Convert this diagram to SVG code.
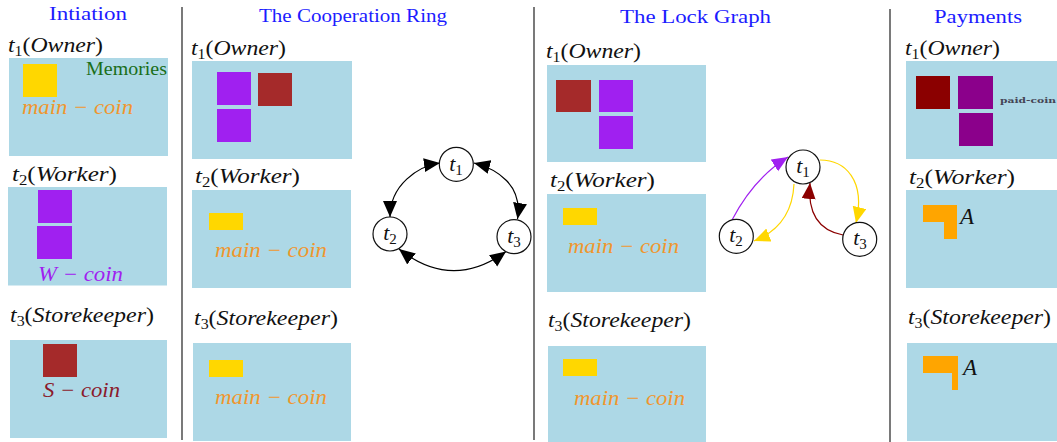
<svg xmlns="http://www.w3.org/2000/svg" width="1057" height="442" viewBox="0 0 1057 442">
<style>
text{font-family:"Liberation Serif","Times New Roman",serif}
.panel{fill:#add8e6}
.div{stroke:#222;stroke-width:1.2;fill:none}
.title{font-size:19px;fill:#1c1cff}
.lab{font-size:21px;font-style:italic;fill:#111}
.lab .up{font-style:normal}
.lab .sub{font-size:14px;font-style:normal}
.coin{font-size:21px;font-style:italic}
.orange{fill:#f0962e}
.yellow{fill:#ffd700}
.violet{fill:#a020f0}
.brown{fill:#a52a2a}
.dred{fill:#8b0000}
.purple{fill:#8b008b}
.amber{fill:#ffa500}
.node circle{fill:#fff;stroke:#111;stroke-width:1.2}
.node text{font-size:22px;font-style:italic;text-anchor:middle;fill:#111}
.node .sub{font-size:15px;font-style:normal}
.edge{fill:none;stroke-width:1.2}
.calA{font-size:23px;font-style:italic;fill:#111}
.mem{font-size:18px;fill:#1a6e1a}
.paid{font-family:"DejaVu Serif",serif;font-size:8px;font-weight:bold;fill:#445}
</style>
<defs>
<marker id="hb" markerUnits="userSpaceOnUse" markerWidth="17" markerHeight="15" refX="16" refY="7" orient="auto-start-reverse"><path d="M0,0L16,7L0,14z" fill="#000"/></marker>
<marker id="hv" markerUnits="userSpaceOnUse" markerWidth="17" markerHeight="15" refX="16" refY="7" orient="auto"><path d="M0,0L16,7L0,14z" fill="#a020f0"/></marker>
<marker id="hy" markerUnits="userSpaceOnUse" markerWidth="17" markerHeight="15" refX="16" refY="7" orient="auto"><path d="M0,0L16,7L0,14z" fill="#ffd700"/></marker>
<marker id="hr" markerUnits="userSpaceOnUse" markerWidth="17" markerHeight="15" refX="16" refY="7" orient="auto"><path d="M0,0L16,7L0,14z" fill="#8b0000"/></marker>
</defs>
<rect width="1057" height="442" fill="#fff"/>
<g id="dividers">
<path class="div" d="M182,7V440M534,7V440M890,9V442"/>
</g>
<g id="titles">
<text class="title" x="49" y="20" textLength="78" lengthAdjust="spacingAndGlyphs">Intiation</text>
<text class="title" x="259" y="22" textLength="188" lengthAdjust="spacingAndGlyphs">The Cooperation Ring</text>
<text class="title" x="620" y="23" textLength="151" lengthAdjust="spacingAndGlyphs">The Lock Graph</text>
<text class="title" x="934" y="23" textLength="88" lengthAdjust="spacingAndGlyphs">Payments</text>
</g>
<g id="initiation-owner">
<text class="lab" x="8" y="52" textLength="95" lengthAdjust="spacingAndGlyphs">t<tspan class="sub" dy="4">1</tspan><tspan class="up" dy="-4">(</tspan>Owner<tspan class="up">)</tspan></text>
<rect class="panel" x="9" y="58" width="159" height="98"/>
<rect class="yellow" x="23" y="64" width="34" height="33"/>
<text class="mem" x="86" y="75" textLength="81" lengthAdjust="spacingAndGlyphs">Memories</text>
<text class="coin orange" x="22" y="114" textLength="111" lengthAdjust="spacingAndGlyphs">main − coin</text>
</g>
<g id="initiation-worker">
<text class="lab" x="12" y="181" textLength="105" lengthAdjust="spacingAndGlyphs">t<tspan class="sub" dy="4">2</tspan><tspan class="up" dy="-4">(</tspan>Worker<tspan class="up">)</tspan></text>
<rect class="panel" x="8" y="187" width="159" height="98.500"/>
<rect class="violet" x="38" y="190" width="34" height="33"/>
<rect class="violet" x="37" y="226" width="35" height="33"/>
<text class="coin violet" x="38" y="281" textLength="85" lengthAdjust="spacingAndGlyphs">W − coin</text>
</g>
<g id="initiation-storekeeper">
<text class="lab" x="10" y="322" textLength="144" lengthAdjust="spacingAndGlyphs">t<tspan class="sub" dy="4">3</tspan><tspan class="up" dy="-4">(</tspan>Storekeeper<tspan class="up">)</tspan></text>
<rect class="panel" x="10" y="340" width="157" height="98"/>
<rect class="brown" x="43" y="344" width="34" height="33"/>
<text class="coin" fill="#8b1a2b" x="43" y="397" textLength="77" lengthAdjust="spacingAndGlyphs">S − coin</text>
</g>
<g id="ring-owner">
<text class="lab" x="191" y="55" textLength="95" lengthAdjust="spacingAndGlyphs">t<tspan class="sub" dy="4">1</tspan><tspan class="up" dy="-4">(</tspan>Owner<tspan class="up">)</tspan></text>
<rect class="panel" x="192" y="61" width="160" height="98"/>
<rect class="violet" x="217" y="72" width="34" height="33"/>
<rect class="violet" x="217" y="109" width="34" height="33"/>
<rect class="brown" x="258" y="73" width="34" height="33"/>
</g>
<g id="ring-worker">
<text class="lab" x="195" y="183" textLength="105" lengthAdjust="spacingAndGlyphs">t<tspan class="sub" dy="4">2</tspan><tspan class="up" dy="-4">(</tspan>Worker<tspan class="up">)</tspan></text>
<rect class="panel" x="192" y="190" width="159" height="98"/>
<rect class="yellow" x="209" y="213" width="34" height="17"/>
<text class="coin orange" x="215" y="257" textLength="112" lengthAdjust="spacingAndGlyphs">main − coin</text>
</g>
<g id="ring-storekeeper">
<text class="lab" x="194" y="325" textLength="144" lengthAdjust="spacingAndGlyphs">t<tspan class="sub" dy="4">3</tspan><tspan class="up" dy="-4">(</tspan>Storekeeper<tspan class="up">)</tspan></text>
<rect class="panel" x="193" y="343" width="158" height="98"/>
<rect class="yellow" x="209" y="360" width="34" height="17"/>
<text class="coin orange" x="215" y="404" textLength="112" lengthAdjust="spacingAndGlyphs">main − coin</text>
</g>
<g id="lock-owner">
<text class="lab" x="546" y="58" textLength="95" lengthAdjust="spacingAndGlyphs">t<tspan class="sub" dy="4">1</tspan><tspan class="up" dy="-4">(</tspan>Owner<tspan class="up">)</tspan></text>
<rect class="panel" x="547" y="65" width="159" height="97"/>
<rect class="brown" x="556" y="80" width="35" height="32"/>
<rect class="violet" x="599" y="80" width="34" height="32"/>
<rect class="violet" x="599" y="116" width="34" height="33"/>
</g>
<g id="lock-worker">
<text class="lab" x="550" y="187" textLength="105" lengthAdjust="spacingAndGlyphs">t<tspan class="sub" dy="4">2</tspan><tspan class="up" dy="-4">(</tspan>Worker<tspan class="up">)</tspan></text>
<rect class="panel" x="547" y="194" width="159" height="98"/>
<rect class="yellow" x="563" y="208" width="34" height="17"/>
<text class="coin orange" x="568" y="253" textLength="111" lengthAdjust="spacingAndGlyphs">main − coin</text>
</g>
<g id="lock-storekeeper">
<text class="lab" x="548" y="327" textLength="143" lengthAdjust="spacingAndGlyphs">t<tspan class="sub" dy="4">3</tspan><tspan class="up" dy="-4">(</tspan>Storekeeper<tspan class="up">)</tspan></text>
<rect class="panel" x="548" y="346" width="158" height="96"/>
<rect class="yellow" x="563" y="359" width="34" height="17"/>
<text class="coin orange" x="574" y="405" textLength="111" lengthAdjust="spacingAndGlyphs">main − coin</text>
</g>
<g id="pay-owner">
<text class="lab" x="905" y="55" textLength="95" lengthAdjust="spacingAndGlyphs">t<tspan class="sub" dy="4">1</tspan><tspan class="up" dy="-4">(</tspan>Owner<tspan class="up">)</tspan></text>
<rect class="panel" x="906" y="61" width="151" height="98"/>
<rect class="dred" x="916" y="76" width="34" height="33"/>
<rect class="purple" x="958" y="76" width="35" height="33"/>
<rect class="purple" x="959" y="113" width="34" height="33"/>
<text class="paid" x="1000" y="103" textLength="56" lengthAdjust="spacingAndGlyphs">paid-coin</text>
</g>
<g id="pay-worker">
<text class="lab" x="909" y="184" textLength="106" lengthAdjust="spacingAndGlyphs">t<tspan class="sub" dy="4">2</tspan><tspan class="up" dy="-4">(</tspan>Worker<tspan class="up">)</tspan></text>
<rect class="panel" x="906" y="190" width="151" height="98"/>
<path class="amber" d="M923,205H957V239H944V222H923z"/>
<text class="calA" x="960" y="224">A</text>
</g>
<g id="pay-storekeeper">
<text class="lab" x="908" y="324" textLength="143" lengthAdjust="spacingAndGlyphs">t<tspan class="sub" dy="4">3</tspan><tspan class="up" dy="-4">(</tspan>Storekeeper<tspan class="up">)</tspan></text>
<rect class="panel" x="907" y="343" width="150" height="98"/>
<path class="amber" d="M923,356H958V390H952V373H923z"/>
<text class="calA" x="963" y="375">A</text>
</g>
<g id="connectors">
<path class="edge" stroke="#000" marker-start="url(#hb)" marker-end="url(#hb)" d="M440,163C418,166 390,185 390,217"/>
<path class="edge" stroke="#000" marker-start="url(#hb)" marker-end="url(#hb)" d="M474,163C497,169 523,185 517.500,219"/>
<path class="edge" stroke="#000" marker-start="url(#hb)" marker-end="url(#hb)" d="M399,249Q452,291 506,251.500"/>
<path class="edge" stroke="#a020f0" marker-end="url(#hv)" d="M732,220Q754,178 788,157"/>
<path class="edge" stroke="#ffd700" marker-end="url(#hy)" d="M794,184Q792,226 754,241"/>
<path class="edge" stroke="#ffd700" marker-end="url(#hy)" d="M820,160C845,160 866,180 856,223"/>
<path class="edge" stroke="#8b0000" marker-end="url(#hr)" d="M843,235Q806,228 810,183"/>
</g>
<g id="ring-t1" class="node"><circle cx="456.300" cy="164.300" r="17"/><text x="456" y="171">t<tspan class="sub" dy="4">1</tspan></text></g>
<g id="ring-t2" class="node"><circle cx="390" cy="234" r="17"/><text x="390" y="240">t<tspan class="sub" dy="4">2</tspan></text></g>
<g id="ring-t3" class="node"><circle cx="514" cy="236.700" r="17"/><text x="514" y="243">t<tspan class="sub" dy="4">3</tspan></text></g>
<g id="lock-t1" class="node"><circle cx="803" cy="167" r="17"/><text x="803" y="173">t<tspan class="sub" dy="4">1</tspan></text></g>
<g id="lock-t2" class="node"><circle cx="736.300" cy="236.300" r="17"/><text x="736" y="242">t<tspan class="sub" dy="4">2</tspan></text></g>
<g id="lock-t3" class="node"><circle cx="859.700" cy="239.300" r="17"/><text x="860" y="245">t<tspan class="sub" dy="4">3</tspan></text></g>
</svg>
